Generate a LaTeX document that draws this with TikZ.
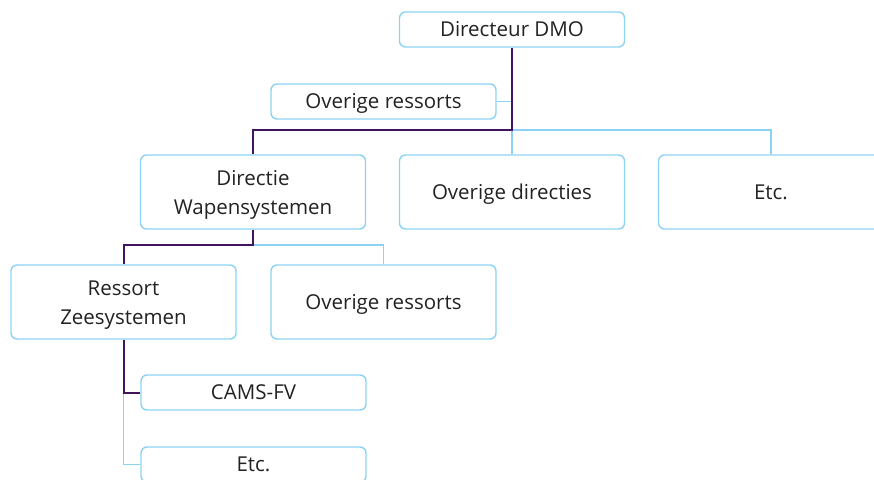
\documentclass[tikz,border=0pt]{standalone}
\usepackage{fontspec}
\setmainfont{Open Sans}
\definecolor{lblue}{RGB}{140,210,242}
\definecolor{rvpurple}{RGB}{66,20,95}
\definecolor{txt}{RGB}{34,34,34}
\begin{document}
\begin{tikzpicture}[x=1pt,y=-1pt,
  box/.style={draw=lblue,line width=1.4pt,rounded corners=6pt,minimum width=225pt,
    align=center,text=txt,font=\fontsize{20.5}{29}\selectfont,inner sep=0pt},
  lowbox/.style={box,minimum height=35pt,text height=18pt,text depth=3.6pt},
  tallbox/.style={box,minimum height=74pt,text height=18pt,text depth=3.6pt},
  twoline/.style={box,minimum height=74pt,text height=48pt,text depth=4pt},
  lconn/.style={draw=lblue,line width=1.6pt},
  pconn/.style={draw=rvpurple,line width=2pt}]
\useasboundingbox (0,0) rectangle (874,479);
\node[lowbox] (dmo) at (512,29.5) {Directeur DMO};
\node[lowbox] (or1) at (383.5,101.5) {Overige ressorts};
\node[twoline] (dws) at (253,192) {Directie\\Wapensystemen};
\node[tallbox] (od) at (512,192) {Overige directies};
\node[tallbox] (etc1) at (771,192) {Etc.};
\node[twoline] (rz) at (123.5,302) {Ressort\\Zeesystemen};
\node[tallbox] (or2) at (383.5,302) {Overige ressorts};
\node[lowbox] (cams) at (253.5,392.5) {CAMS-FV};
\node[lowbox] (etc2) at (253.5,464.5) {Etc.};
\coordinate (j1) at (512,130);
\coordinate (j2) at (253,245);
\draw[lconn] (or1.east) -- (or1.east -| dmo.south);
\draw[lconn] (j1) -| (etc1.north);
\draw[lconn] (j1) -- (od.north);
\draw[lconn] (j2) -| (or2.north);
\draw[lconn] (cams.west -| rz.south) |- (etc2.west);
\draw[pconn] (dmo.south) -- (j1) -| (dws.north);
\draw[pconn] (dws.south) -- (j2) -| (rz.north);
\draw[pconn] (rz.south) |- (cams.west);
\end{tikzpicture}
\end{document}
